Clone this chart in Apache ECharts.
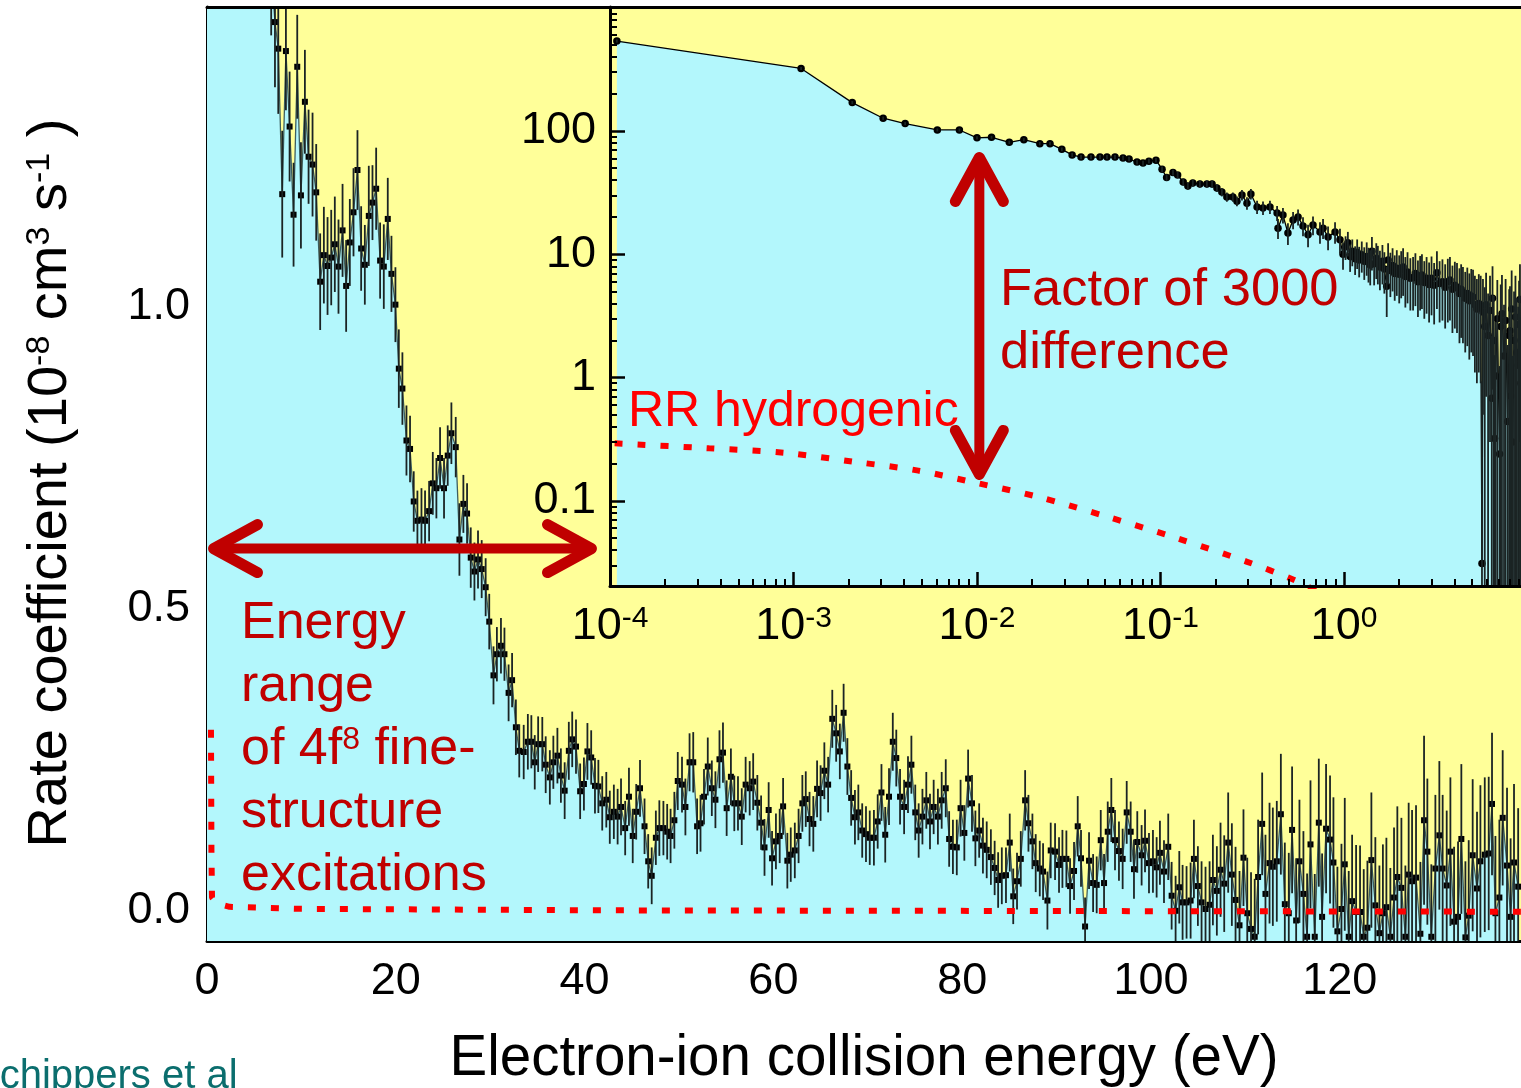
<!DOCTYPE html>
<html><head><meta charset="utf-8">
<script src="https://cdn.jsdelivr.net/npm/echarts@6/dist/echarts.min.js"></script>
<style>html,body{margin:0;padding:0;background:#fff}#c{width:1521px;height:1088px}</style>
</head><body><div id="c"></div>
<script>
// ---------- main panel: [energy eV, rate 1e-8 cm3/s, error] ----------
const mainPoints = [
[0,60,5],[1.5,9,1],[3.0,4,0.4],[4.5,2.4,0.2],[5.6,1.9,0.15],[6.4,1.68,0.12],[6.8,1.56,0.11],
[7.2,1.472,0.108],[7.55,1.428,0.108],[7.97,1.187,0.105],[8.36,1.424,0.098],[8.75,1.299,0.091],[9.17,1.153,0.086],[9.56,1.398,0.086],[9.95,1.185,0.088],[10.37,1.340,0.086],[10.76,1.249,0.078],[11.18,1.236,0.086],[11.57,1.190,0.080],[11.99,1.042,0.080],[12.38,1.086,0.080],[12.77,1.068,0.081],[13.16,1.082,0.079],[13.54,1.104,0.079],[13.93,1.067,0.078],[14.36,1.127,0.077],[14.74,1.035,0.076],[15.13,1.107,0.072],[15.52,1.157,0.073],[15.94,1.227,0.066],[16.33,1.097,0.070],[16.72,1.070,0.066],[17.14,1.151,0.083],[17.53,1.173,0.062],[17.92,1.196,0.068],[18.34,1.077,0.063],[18.73,1.067,0.070],[19.15,1.146,0.068],[19.54,1.055,0.063],[19.96,1.004,0.062],
[20.32,0.898,0.065],[20.70,0.865,0.060],[21.13,0.779,0.058],[21.51,0.765,0.055],[21.90,0.678,0.050],[22.29,0.646,0.050],[22.72,0.648,0.052],[23.10,0.646,0.050],[23.53,0.662,0.050],[23.92,0.708,0.052],[24.30,0.700,0.050],[24.69,0.750,0.051],[25.11,0.700,0.050],[25.50,0.754,0.050],[25.89,0.791,0.051],[26.35,0.768,0.050],[26.74,0.615,0.060],[27.16,0.674,0.048],[27.55,0.658,0.050],[27.94,0.585,0.050],[28.33,0.562,0.048],[28.71,0.582,0.048],[29.10,0.566,0.048],[29.52,0.536,0.048],
[29.90,0.479,0.046],[30.35,0.390,0.048],[30.71,0.425,0.045],[31.14,0.439,0.046],[31.51,0.425,0.044],[31.95,0.361,0.047],[32.32,0.382,0.045],[32.72,0.304,0.046],[33.08,0.265,0.044],[33.55,0.263,0.045],[33.99,0.280,0.046],[34.36,0.280,0.044],[34.72,0.246,0.045],[35.08,0.276,0.046],[35.52,0.276,0.045],[35.88,0.242,0.047],[36.32,0.221,0.045],[36.69,0.246,0.044],[37.12,0.257,0.046],[37.49,0.224,0.045],[37.89,0.199,0.047],[38.33,0.265,0.048],[38.69,0.284,0.046],[39.09,0.272,0.045],[39.53,0.198,0.046],[39.93,0.210,0.044],[40.30,0.264,0.047],[40.70,0.254,0.045],[41.10,0.207,0.046],[41.46,0.206,0.044],[41.87,0.178,0.045],[42.30,0.184,0.046],[42.67,0.155,0.044],[43.10,0.164,0.045],[43.50,0.156,0.046],[43.86,0.172,0.047],[44.30,0.137,0.045],[44.70,0.189,0.048],[45.10,0.124,0.045],[45.47,0.164,0.046],[45.87,0.203,0.047],[46.35,0.140,0.046],[46.74,0.082,0.045],[47.11,0.058,0.047],[47.55,0.121,0.045],[47.92,0.137,0.046],[48.35,0.137,0.045],[48.75,0.131,0.046],[49.11,0.124,0.045],[49.51,0.150,0.047],[49.87,0.215,0.048],[50.32,0.209,0.046],[50.68,0.172,0.047],[51.12,0.246,0.048],[51.51,0.246,0.050],[51.92,0.140,0.046],[52.28,0.145,0.047],[52.65,0.189,0.046],[53.05,0.239,0.048],[53.48,0.203,0.046],[53.86,0.184,0.047],[54.29,0.251,0.048],[54.66,0.262,0.050],[55.05,0.170,0.046],[55.50,0.222,0.047],[55.86,0.178,0.046],[56.25,0.178,0.045],[56.65,0.156,0.047],[57.06,0.209,0.046],[57.49,0.203,0.045],[57.86,0.214,0.047],[58.30,0.179,0.046],[58.70,0.146,0.045],[59.06,0.105,0.047],[59.50,0.167,0.046],[59.86,0.087,0.045],[60.27,0.115,0.046],[60.67,0.124,0.045],[61.03,0.173,0.047],[61.48,0.083,0.046],[61.84,0.093,0.045],[62.27,0.100,0.046],[62.67,0.124,0.045],[63.07,0.178,0.047],[63.43,0.185,0.046],[63.83,0.152,0.045],[64.23,0.144,0.046],[64.63,0.202,0.047],[65.00,0.195,0.046],[65.40,0.232,0.047],[65.80,0.209,0.046],[66.24,0.318,0.048],[66.65,0.294,0.047],[67.04,0.264,0.046],[67.44,0.328,0.048],[67.84,0.239,0.047],[68.24,0.187,0.046],[68.64,0.155,0.045],[69.00,0.163,0.046],[69.41,0.133,0.045],[69.81,0.127,0.046],[70.21,0.121,0.045],[70.65,0.121,0.046],[71.05,0.148,0.045],[71.45,0.196,0.047],[71.85,0.126,0.046],[72.25,0.189,0.047],[72.65,0.280,0.048],[73.02,0.253,0.047],[73.42,0.189,0.046],[73.85,0.172,0.045],[74.26,0.209,0.047],[74.62,0.242,0.048],[75.03,0.163,0.046],[75.39,0.133,0.045],[75.79,0.156,0.046],[76.20,0.183,0.047],[76.59,0.148,0.046],[76.98,0.172,0.045],[77.43,0.156,0.046],[77.83,0.183,0.047],[78.26,0.203,0.048],[78.62,0.119,0.046],[79.02,0.106,0.045],[79.43,0.105,0.046],[79.83,0.170,0.047],[80.23,0.129,0.046],[80.63,0.219,0.048],[81.04,0.178,0.047],[81.40,0.120,0.046],[81.80,0.133,0.045],[82.20,0.108,0.046],[82.60,0.101,0.047],[83.04,0.089,0.046],[83.44,0.071,0.045],[83.81,0.051,0.046],[84.20,0.058,0.047],[84.64,0.059,0.046],[85.04,0.113,0.048],[85.41,0.024,0.046],[85.81,0.049,0.047],
[86.21,0.086,0.046],[86.67,0.183,0.050],[87.02,0.145,0.047],[87.44,0.115,0.046],[87.79,0.079,0.048],[88.22,0.070,0.046],[88.57,0.065,0.047],[89.03,0.017,0.048],[89.38,0.100,0.046],[89.84,0.098,0.047],[90.26,0.076,0.046],[90.62,0.086,0.048],[91.04,0.086,0.047],[91.43,0.041,0.046],[91.85,0.066,0.048],[92.24,0.140,0.050],[92.59,0.087,0.047],[93.02,-0.026,0.048],[93.44,0.083,0.047],[93.87,0.046,0.048],[94.25,0.043,0.047],[94.68,0.117,0.050],[95.03,0.046,0.048],[95.42,0.131,0.050],[95.80,0.167,0.053],[96.19,0.117,0.050],[96.61,0.099,0.049],[97.00,0.086,0.050],[97.43,0.163,0.052],[97.85,0.131,0.050],[98.20,0.069,0.049],[98.55,0.114,0.051],[99.01,0.092,0.050],[99.37,0.116,0.052],[99.79,0.079,0.050],[100.21,0.082,0.052],[100.60,0.072,0.050],[100.95,0.096,0.053],[101.38,0.065,0.052],[101.83,0.106,0.055],[102.19,0.025,0.056],[102.61,0.000,0.058],[103.00,0.039,0.060],[103.35,0.014,0.062],[103.77,0.014,0.060],[104.20,0.017,0.063],[104.55,0.086,0.065],[104.97,0.041,0.066],[105.36,0.014,0.068],[105.78,0.003,0.070],[106.21,0.010,0.072],[106.56,0.051,0.075],[106.98,0.033,0.074],[107.37,0.068,0.078],[107.76,0.045,0.080],[108.18,0.113,0.083],
[108.57,0.060,0.085],[108.96,0.018,0.088],[109.38,-0.024,0.090],[109.80,0.088,0.080],[110.20,-0.004,0.092],[110.60,-0.030,0.094],[110.99,-0.043,0.096],[111.35,0.056,0.095],[111.78,0.144,0.085],[112.13,0.028,0.098],[112.56,0.079,0.100],[112.91,0.073,0.098],[113.33,0.082,0.100],[113.76,0.160,0.100],[114.18,0.011,0.102],[114.60,-0.004,0.100],[114.95,0.134,0.105],[115.38,-0.016,0.103],[115.73,0.082,0.102],[116.15,0.028,0.104],[116.54,-0.043,0.105],[116.90,0.110,0.106],[117.35,-0.043,0.104],[117.78,0.146,0.106],[118.13,-0.010,0.105],[118.55,0.136,0.107],[118.97,0.118,0.106],[119.33,0.080,0.108],[119.75,-0.034,0.107],[120.18,0.003,0.108],[120.53,0.077,0.110],[120.95,-0.043,0.109],[121.31,0.016,0.110],[121.73,-0.002,0.111],[122.15,-0.002,0.110],[122.54,-0.043,0.112],[122.93,-0.028,0.111],[123.35,0.084,0.112],[123.77,0.009,0.113],[124.20,-0.037,0.112],[124.57,-0.004,0.114],[124.94,0.006,0.115],[125.36,-0.043,0.114],[125.75,0.022,0.116],[126.10,0.056,0.117],[126.53,0.038,0.116],[126.95,-0.043,0.118],[127.30,0.060,0.119],[127.66,0.049,0.118],[128.08,0.055,0.120],[128.54,-0.038,0.119],[128.93,0.150,0.140],[129.28,0.098,0.121],[129.70,-0.043,0.120],[130.13,0.070,0.122],[130.55,0.125,0.123],[130.90,0.070,0.122],[131.33,0.042,0.124],[131.72,0.098,0.123],[132.11,-0.018,0.124],[132.53,-0.010,0.125],[132.88,0.119,0.124],[133.31,-0.044,0.126],[133.66,-0.008,0.125],[134.08,0.092,0.126],[134.54,0.037,0.127],[134.90,0.082,0.126],[135.36,0.093,0.128],[135.78,0.095,0.127],[136.13,0.177,0.118],[136.49,-0.004,0.128],[136.91,0.022,0.129],[137.26,0.154,0.112],[137.72,0.075,0.129],[138.10,-0.010,0.130],[138.46,0.080,0.130],[138.90,0.040,0.130]
];
// RR hydrogenic curve in the main panel: [energy, rate]
const rrMain = [[0.42,0.30],[0.47,0.10],[0.53,0.022],[1.06,0.012],[2.4,0.0066],[9.8,0.0033],[41.6,0.0008],[139.2,-0.0015]];

// ---------- inset (log-log): [energy eV, rate, error] ----------
const insetPoints = [
[1.09e-4,537,16],[1.10e-3,322,9],[2.09e-3,170,5],[3.08e-3,127,4],[4.06e-3,115,3.5],[6.08e-3,102,3],[8.02e-3,102,3],
[1.00e-2,88,2.5],[1.20e-2,89,2.5],[1.50e-2,81,2.5],[1.80e-2,85,2.5],[2.20e-2,79,2.5],[2.50e-2,79,2.5],[2.90e-2,71,2.5],[3.30e-2,64,2.5],[3.69e-2,61.5,2.5],[4.18e-2,61.5,2.5],[4.68e-2,61.5,2.5],[5.11e-2,61.5,2.5],[5.65e-2,61.5,2.5],[6.25e-2,60.4,2.5],[6.74e-2,59.3,2.5],[7.45e-2,56,2.5],[8.03e-2,55,2.5],[8.65e-2,57,2.5],[9.45e-2,58,2.5],
[0.102,49,2.5],[0.108,42,2.5],[0.117,46,2.5],[0.124,44,2.5],[0.133,38.6,2.5],[0.141,35.8,2.5],[0.150,37.8,2.5],[0.164,37.2,2.5],[0.179,37.2,2.5],[0.191,37.2,2.5],[0.203,34.5,2.5],[0.216,32,2.5],[0.230,29.2,2.5],[0.248,29.2,2.5],[0.261,27,2.5],[0.278,30.3,3],[0.296,26,3],[0.311,30.8,3],[0.336,24.2,3],[0.362,23.8,3],[0.395,24.2,3],[0.432,21.6,3],[0.437,16.3,3],[0.465,20.8,3],[0.495,14.9,3],[0.528,19,3],[0.562,20.1,3],[0.598,17,3],[0.637,14.4,3],[0.678,17.3,3],[0.740,15.2,3],[0.769,16.3,3],[0.819,13.8,3],[0.894,15.2,3],[0.951,13.1,3],
[0.988,10.0,2.5],[1.02,11.5,2.5],[1.05,12.4,2.8],[1.08,9.6,2.4],[1.11,10.6,2.6],[1.15,9.2,2.4],[1.18,10.4,2.8],[1.21,9.0,2.5],[1.25,9.9,2.8],[1.29,8.8,2.6],[1.33,9.6,2.9],[1.36,8.6,2.7],[1.39,8.2,2.6],[1.42,10.6,3.2],[1.46,8.4,2.8],[1.50,9.3,3.0],[1.53,8.7,3.0],[1.57,7.9,2.8],[1.62,8.8,3.1],[1.66,7.6,2.8],[1.71,5.5,2.4],[1.74,9.0,3.3],[1.79,7.4,2.9],[1.84,8.1,3.1],[1.89,7.0,2.8],[1.94,7.7,3.1],[2.00,6.9,2.9],[2.05,7.5,3.1],[2.10,7.9,3.3],[2.16,6.6,2.9],[2.22,7.2,3.2],[2.30,6.4,2.9],[2.38,6.5,3.0],[2.45,7.0,3.2],[2.53,6.0,2.9],[2.60,6.6,3.1],[2.66,6.8,3.2],[2.74,5.9,2.9],[2.82,6.4,3.1],[2.91,5.7,2.9],[3.00,6.4,3.2],[3.10,5.6,2.9],[3.21,7.1,3.5],[3.32,5.8,3.0],[3.44,6.0,3.1],[3.56,5.4,2.9],[3.68,6.0,3.2],[3.78,6.2,3.3],[3.90,5.2,2.9],[4.02,5.6,3.1],[4.13,5.4,3.1],[4.26,4.8,2.9],[4.35,5.2,3.1],[4.45,4.9,3.0],[4.58,4.4,2.8],[4.70,4.8,3.0],[4.82,4.2,2.8],[4.94,4.6,3.0],[5.05,4.5,3.0],[5.17,3.9,2.8],[5.30,3.6,2.7],[5.43,4.0,2.9],[5.56,3.8,2.9],
[5.65,0.031,0.9],[5.72,3.4,2.9],[5.85,2.6,2.8],[5.95,3.9,3.2],[6.10,2.2,2.6],[6.25,3.5,3.2],[6.39,0.68,1.5],[6.45,4.4,3.6],[6.55,2.0,2.6],[6.62,0.32,1.2],[6.70,1.03,1.8],[6.85,3.0,3.2],[7.05,0.24,1.0],[7.15,2.6,3.1],[7.26,3.3,3.5],[7.45,1.5,2.4],[7.60,2.9,3.4],[7.80,0.44,1.4],[7.95,2.2,3.0],[8.03,2.4,3.1],[8.10,0.71,1.7],[8.20,3.6,3.8],[8.30,0.30,1.2],[8.45,2.0,3.0],[8.60,3.1,3.6],[8.75,1.6,2.8],[8.90,1.26,2.5],[9.00,2.7,3.4],[9.10,4.3,4.0],[9.20,0.9,2.2]
];
const rrInset = [[1.06e-4,0.293],[3.47e-4,0.267],[8.87e-4,0.246],[2.12e-3,0.208],[4.79e-3,0.176],[1.01e-2,0.139],[2.14e-2,0.108],[5.13e-2,0.0744],[0.123,0.0498],[0.294,0.0322],[0.532,0.0229],[0.8,0.017]];

// ---------- axes: ranges and ticks ----------
const MAIN_X = [0, 139.2];
const MAIN_Y = [-0.05, 1.497];
const INSET_X = [1e-4, 9.22];
const INSET_Y = [0.0204, 1014];
const mainXLabels = [0,20,40,60,80,100,120];
const mainXMinor = [2,4,6,8,10,12,14,16,18,22,24,26,28,30,32,34,36,38,42,44,46,48,50,52,54,56,58,62,64,66,68,70,72,74,76,78,82,84,86,88,90,92,94,96,98,102,104,106,108,110,112,114,116,118,122,124,126,128,130,132,134,136,138];
const mainYLabels = [0,0.5,1.0];
const mainYMinor = [0.1,0.2,0.3,0.4,0.6,0.7,0.8,0.9,1.1,1.2,1.3,1.4];
const insetXLabels = [1e-4,1e-3,1e-2,1e-1,1];
const insetXMinor = [2e-4,3e-4,4e-4,5e-4,6e-4,7e-4,8e-4,9e-4,2e-3,3e-3,4e-3,5e-3,6e-3,7e-3,8e-3,9e-3,0.02,0.03,0.04,0.05,0.06,0.07,0.08,0.09,0.2,0.3,0.4,0.5,0.6,0.7,0.8,0.9,2,3,4,5,6,7,8,9];
const insetYLabels = [0.1,1,10,100];
const insetYMinor = [0.03,0.04,0.05,0.06,0.07,0.08,0.09,0.2,0.3,0.4,0.5,0.6,0.7,0.8,0.9,2,3,4,5,6,7,8,9,20,30,40,50,60,70,80,90,200,300,400,500,600,700,800,900];
// double arrows, in data space: [x1, y1, x2, y2]
const mainArrow = [[0.69, 0.6, 40.73, 0.6]];
const insetArrow = [[0.0103, 61, 0.0103, 0.164]];

const FONT = '"Liberation Sans", Arial, sans-serif';
const CYAN = '#B3F7FC', YELLOW = '#FFFF99', DARKRED = '#C00000';

function errBar(yMin) {
  return function (params, api) {
    const x = api.value(0), v = api.value(1), e = api.value(2);
    const lo = Math.max(v - e, yMin);
    const a = api.coord([x, v + e]), b = api.coord([x, lo]);
    return {type: 'line', shape: {x1: a[0], y1: a[1], x2: b[0], y2: b[1]},
      style: {stroke: '#1b2424', lineWidth: 1.8}};
  };
}
function arrowItem(params, api) {
  const p1 = api.coord([api.value(0), api.value(1)]);
  const p2 = api.coord([api.value(2), api.value(3)]);
  const dx = p2[0] - p1[0], dy = p2[1] - p1[1];
  const L = Math.hypot(dx, dy), ux = dx / L, uy = dy / L, px = -uy, py = ux;
  const back = 44, side = 24;
  const head = (t, s) => [[t[0] + s * back * ux + side * px, t[1] + s * back * uy + side * py], [t[0], t[1]],
    [t[0] + s * back * ux - side * px, t[1] + s * back * uy - side * py]];
  const st = {stroke: DARKRED, fill: null, lineWidth: 11, lineCap: 'round', lineJoin: 'round'};
  return {type: 'group', children: [
    {type: 'line', shape: {x1: p1[0] + ux * 3, y1: p1[1] + uy * 3, x2: p2[0] - ux * 3, y2: p2[1] - uy * 3},
      style: {stroke: DARKRED, lineWidth: 10}},
    {type: 'polyline', shape: {points: head(p1, 1)}, style: st},
    {type: 'polyline', shape: {points: head(p2, -1)}, style: st}
  ]};
}
const tickStyle = {color: '#000', width: 2.5};

const option = {
  animation: false,
  grid: [
    {left: 207, top: 7, width: 1314, height: 934, show: true, backgroundColor: YELLOW, borderWidth: 0, z: 0, outerBoundsMode: 'none', containLabel: false},
    {left: 610, top: 7, width: 911, height: 579, show: true, backgroundColor: YELLOW, borderWidth: 0, z: 1, outerBoundsMode: 'none', containLabel: false}
  ],
  xAxis: [
    {gridIndex: 0, type: 'value', min: MAIN_X[0], max: MAIN_X[1], position: 'bottom',
      axisLine: {show: true, onZero: false, lineStyle: {color: '#000', width: 3}},
      axisTick: {show: true, inside: true, length: 13, lineStyle: tickStyle, customValues: mainXLabels},
      axisLabel: {show: true, customValues: mainXLabels, color: '#000', fontSize: 45, fontFamily: FONT, margin: 18},
      splitLine: {show: false},
      name: 'Electron-ion collision energy (eV)', nameLocation: 'middle', nameGap: 90,
      nameTextStyle: {color: '#000', fontSize: 56.5, fontFamily: FONT}},
    {gridIndex: 0, type: 'value', min: MAIN_X[0], max: MAIN_X[1], position: 'bottom',
      axisLine: {show: false, onZero: false}, axisLabel: {show: false}, splitLine: {show: false},
      axisTick: {show: true, inside: true, length: 7, lineStyle: {color: '#000', width: 2}, customValues: mainXMinor}},
    {gridIndex: 0, type: 'value', min: MAIN_X[0], max: MAIN_X[1], position: 'top', z: 6,
      axisLine: {show: true, onZero: false, lineStyle: {color: '#000', width: 3}},
      axisTick: {show: false}, axisLabel: {show: false}, splitLine: {show: false}},
    {gridIndex: 1, type: 'log', logBase: 10, min: INSET_X[0], max: INSET_X[1], position: 'bottom', z: 6,
      axisLine: {show: true, onZero: false, lineStyle: {color: '#000', width: 3}},
      axisTick: {show: true, inside: true, length: 14, lineStyle: tickStyle, customValues: insetXLabels},
      axisLabel: {show: true, customValues: insetXLabels, color: '#000', margin: 18,
        formatter: v => '{b|10}{s|' + Math.round(Math.log10(v)) + '}',
        rich: {b: {fontSize: 45, fontFamily: FONT, color: '#000'},
               s: {fontSize: 30, fontFamily: FONT, color: '#000', verticalAlign: 'top'}}},
      splitLine: {show: false}},
    {gridIndex: 1, type: 'log', logBase: 10, min: INSET_X[0], max: INSET_X[1], position: 'bottom', z: 6,
      axisLine: {show: false, onZero: false}, axisLabel: {show: false}, splitLine: {show: false},
      axisTick: {show: true, inside: true, length: 7, lineStyle: {color: '#000', width: 2}, customValues: insetXMinor}}
  ],
  yAxis: [
    {gridIndex: 0, type: 'value', min: MAIN_Y[0], max: MAIN_Y[1], position: 'left',
      axisLine: {show: true, onZero: false, lineStyle: {color: '#000', width: 3}},
      axisTick: {show: true, inside: true, length: 17, lineStyle: tickStyle, customValues: mainYLabels},
      axisLabel: {show: true, customValues: mainYLabels, color: '#000', fontSize: 45, fontFamily: FONT, margin: 17,
        formatter: v => v.toFixed(1)},
      splitLine: {show: false},
      name: '{t|Rate coefficient (10}{s|-8}{t| cm}{s|3}{t| s}{s|-1}{t| )}',
      nameLocation: 'middle', nameGap: 128, nameRotate: 90,
      nameTextStyle: {color: '#000', fontSize: 56, fontFamily: FONT, padding: [0, 18, 0, 0],
        rich: {t: {fontSize: 56, fontFamily: FONT, color: '#000'},
               s: {fontSize: 34, fontFamily: FONT, color: '#000', verticalAlign: 'top'}}}},
    {gridIndex: 0, type: 'value', min: MAIN_Y[0], max: MAIN_Y[1], position: 'left',
      axisLine: {show: false, onZero: false}, axisLabel: {show: false}, splitLine: {show: false},
      axisTick: {show: true, inside: true, length: 8, lineStyle: {color: '#000', width: 2}, customValues: mainYMinor}},
    {gridIndex: 1, type: 'log', logBase: 10, min: INSET_Y[0], max: INSET_Y[1], position: 'left', z: 6,
      axisLine: {show: true, onZero: false, lineStyle: {color: '#000', width: 3}},
      axisTick: {show: true, inside: true, length: 15, lineStyle: tickStyle, customValues: insetYLabels},
      axisLabel: {show: true, customValues: insetYLabels, color: '#000', fontSize: 45, fontFamily: FONT, margin: 14,
        formatter: v => (v < 1 ? String(v) : String(Math.round(v)))},
      splitLine: {show: false}},
    {gridIndex: 1, type: 'log', logBase: 10, min: INSET_Y[0], max: INSET_Y[1], position: 'left', z: 6,
      axisLine: {show: false, onZero: false}, axisLabel: {show: false}, splitLine: {show: false},
      axisTick: {show: true, inside: true, length: 7, lineStyle: {color: '#000', width: 2}, customValues: insetYMinor}}
  ],
  series: [
    {type: 'line', xAxisIndex: 0, yAxisIndex: 0, z: 2, clip: true, silent: true,
      data: mainPoints.map(p => [p[0], p[1]]),
      symbol: 'rect', symbolSize: 6, showSymbol: true, showAllSymbol: true, sampling: null,
      itemStyle: {color: '#000'}, lineStyle: {color: '#3E5F5F', width: 1.3},
      areaStyle: {color: CYAN, opacity: 1, origin: 'start'}},
    {type: 'custom', xAxisIndex: 0, yAxisIndex: 0, z: 3, clip: true, silent: true,
      data: mainPoints, encode: {x: 0, y: 1}, renderItem: errBar(MAIN_Y[0])},
    {type: 'line', xAxisIndex: 0, yAxisIndex: 0, z: 4, clip: true, silent: true,
      data: rrMain, showSymbol: false, symbol: 'none',
      lineStyle: {color: '#FF0000', width: 6, type: [8, 15]}},
    {type: 'custom', xAxisIndex: 0, yAxisIndex: 0, z: 10, clip: false, silent: true,
      data: mainArrow, encode: {x: [0, 2], y: [1, 3]}, renderItem: arrowItem},
    {type: 'line', xAxisIndex: 3, yAxisIndex: 2, z: 3, clip: true, silent: true,
      data: insetPoints.map(p => [p[0], p[1]]),
      symbol: 'circle', symbolSize: 7.5, showSymbol: true, showAllSymbol: true, sampling: null,
      itemStyle: {color: '#000'}, lineStyle: {color: '#000', width: 1.3},
      areaStyle: {color: CYAN, opacity: 1, origin: 'start'}},
    {type: 'custom', xAxisIndex: 3, yAxisIndex: 2, z: 4, clip: true, silent: true,
      data: insetPoints, encode: {x: 0, y: 1}, renderItem: errBar(INSET_Y[0])},
    {type: 'line', xAxisIndex: 3, yAxisIndex: 2, z: 5, clip: true, silent: true,
      data: rrInset, showSymbol: false, symbol: 'none', smooth: 0.3,
      lineStyle: {color: '#FF0000', width: 6, type: [8, 15]}},
    {type: 'custom', xAxisIndex: 3, yAxisIndex: 2, z: 10, clip: false, silent: true,
      data: insetArrow, encode: {x: [0, 2], y: [1, 3]}, renderItem: arrowItem}
  ],
  graphic: [
    {type: 'text', x: 241, y: 624, z: 50, style: {text: 'Energy', font: '52px ' + FONT, fill: DARKRED, verticalAlign: 'middle'}},
    {type: 'text', x: 241, y: 687, z: 50, style: {text: 'range', font: '52px ' + FONT, fill: DARKRED, verticalAlign: 'middle'}},
    {type: 'text', x: 241, y: 750, z: 50, style: {text: '{r|of 4f}{s|8}{r| fine-}', fill: DARKRED, verticalAlign: 'middle',
      font: '52px ' + FONT,
      rich: {r: {font: '52px ' + FONT, fill: DARKRED}, s: {font: '32px ' + FONT, fill: DARKRED, verticalAlign: 'top'}}}},
    {type: 'text', x: 241, y: 813, z: 50, style: {text: 'structure', font: '52px ' + FONT, fill: DARKRED, verticalAlign: 'middle'}},
    {type: 'text', x: 241, y: 876, z: 50, style: {text: 'excitations', font: '52px ' + FONT, fill: DARKRED, verticalAlign: 'middle'}},
    {type: 'text', x: 1000, y: 291, z: 50, style: {text: 'Factor of 3000', font: '52.5px ' + FONT, fill: DARKRED, verticalAlign: 'middle'}},
    {type: 'text', x: 1000, y: 354, z: 50, style: {text: 'difference', font: '52.5px ' + FONT, fill: DARKRED, verticalAlign: 'middle'}},
    {type: 'text', x: 628, y: 412, z: 50, style: {text: 'RR hydrogenic', font: '50px ' + FONT, fill: '#FF0000', verticalAlign: 'middle'}},
    {type: 'text', x: -27, y: 1077, z: 50, style: {text: 'Schippers et al', font: '40px ' + FONT, fill: '#0B6E6E', verticalAlign: 'middle'}}
  ]
};
const chart = echarts.init(document.getElementById('c'), null, {renderer: 'canvas'});
chart.setOption(option);
</script>
</body></html>
